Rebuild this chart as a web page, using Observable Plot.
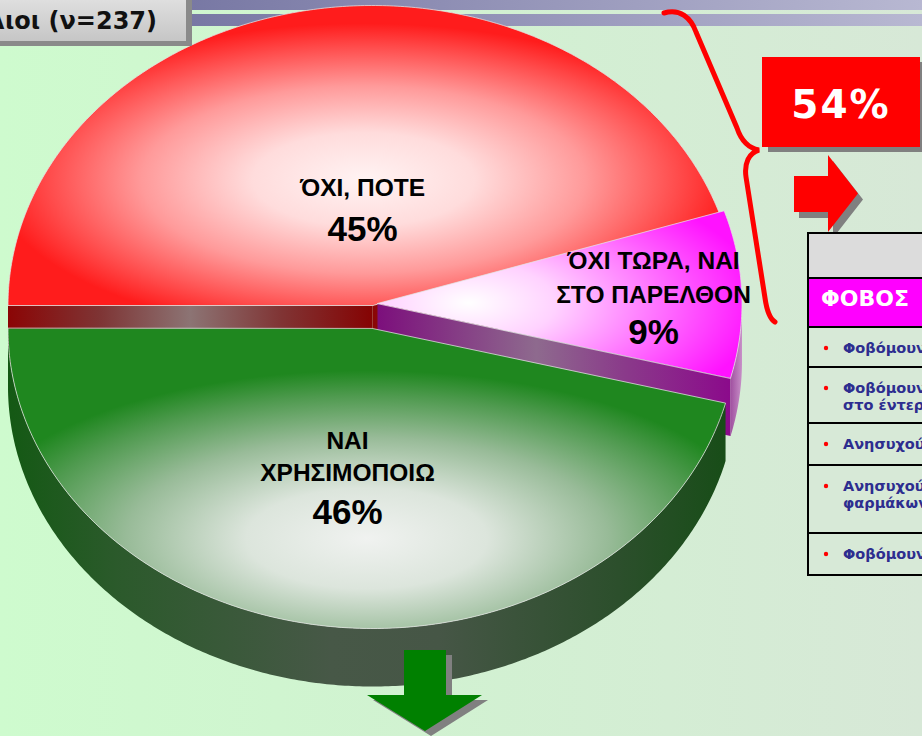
<!DOCTYPE html>
<html lang="el">
<head>
<meta charset="utf-8">
<script src="https://cdn.jsdelivr.net/npm/d3@7"></script>
<script src="https://cdn.jsdelivr.net/npm/@observablehq/plot@0.6"></script>
<style>
html, body { margin: 0; padding: 0; }
body { width: 922px; height: 736px; overflow: hidden; position: relative;
  background: linear-gradient(90deg, #cefbce 0%, #d1f2d1 45%, #d7e8d7 100%); }
svg.layer { position: absolute; left: 0; top: 0; }
#chart { position: absolute; left: 0; top: 0; }
</style>
</head>
<body>
<svg id="under" class="layer" width="922" height="736"></svg>
<div id="chart"></div>
<svg id="over" class="layer" width="922" height="736"></svg>
<script>
// ---------- DATA ----------
const categories = ["ΌΧΙ, ΠΟΤΕ", "ΌΧΙ ΤΩΡΑ, ΝΑΙ ΣΤΟ ΠΑΡΕΛΘΟΝ", "ΝΑΙ ΧΡΗΣΙΜΟΠΟΙΩ"];
const labelLines = [["ΌΧΙ, ΠΟΤΕ"], ["ΌΧΙ ΤΩΡΑ, ΝΑΙ", "ΣΤΟ ΠΑΡΕΛΘΟΝ"], ["ΝΑΙ", "ΧΡΗΣΙΜΟΠΟΙΩ"]];
const values = [45, 9, 46];
const groupLabel = "λιοι";
const sampleSize = 237;
const tableTitle = "ΦΟΒΟΣ";
const fearItems = [
  ["Φοβόμουν τις παρενέργειες"],
  ["Φοβόμουν ότι θα δημιουργηθεί πρόβλημα", "στο έντερο"],
  ["Ανησυχούσα για το κόστος"],
  ["Ανησυχούσα για την αλληλεπίδραση των", "φαρμάκων"],
  ["Φοβόμουν τον εθισμό"]
];

// ---------- LAYOUT ----------
const CX = 372, CY = 316, RX = 364.5, RY = 300, H = 58;
const sliceOffset = [[0, 11], [5, 13], [0, -12]];         // px right, px up
const labelLayout = [                                       // px rel. to slice centre (down = +)
  {dx: -10, lines: [-110], pct: -65},
  {dx: 276, lines: [-35, -1], pct: 40},
  {dx: -25, lines: [120, 152], pct: 195}
];
const fills = [
  {top: "url(#gRedTop)", cut: "url(#gRedCut)", wall: "url(#gRedCut)"},
  {top: "url(#gPinkTop)", cut: "url(#gPinkCut)", wall: "url(#gPinkWall)"},
  {top: "url(#gGreenTop)", cut: "url(#gGreenWall)", wall: "url(#gGreenWall)"}
];

// ---------- GEOMETRY from data ----------
const arcs = d3.pie().sort(null).startAngle(-Math.PI / 2).endAngle(1.5 * Math.PI)(values);
const U = (theta, off, drop = 0) => ({x: Math.cos(theta) + off[0] / RX, y: Math.sin(theta) + (off[1] - drop) / RY});
const C = (off, drop = 0) => ({x: off[0] / RX, y: (off[1] - drop) / RY});
const arcPts = (t0, t1, off, drop) => {
  const n = Math.max(4, Math.ceil(Math.abs(t1 - t0) / 0.01));
  return d3.range(n + 1).map(i => U(t0 + (t1 - t0) * i / n, off, drop));
};

const faceMarks = [];
arcs.forEach((a, i) => {
  const off = sliceOffset[i];
  const t0 = Math.PI / 2 - a.startAngle;
  const t1 = Math.PI / 2 - a.endAngle;
  const cut = th => [C(off), U(th, off), U(th, off, H), C(off, H)];
  if (Math.cos(t0) < -1e-9) faceMarks.push(Plot.line(cut(t0), {x: "x", y: "y", curve: "linear-closed", fill: fills[i].cut, stroke: "none"}));
  if (Math.cos(t1) > 1e-9) faceMarks.push(Plot.line(cut(t1), {x: "x", y: "y", curve: "linear-closed", fill: fills[i].cut, stroke: "none"}));
  const lo = Math.max(t1, -Math.PI), hi = Math.min(t0, 0);
  if (hi - lo > 1e-6) {
    const wall = [...arcPts(hi, lo, off, 0), ...arcPts(lo, hi, off, H)];
    faceMarks.push(Plot.line(wall, {x: "x", y: "y", curve: "linear-closed", fill: fills[i].wall, stroke: "none"}));
  }
  const top = [C(off), ...arcPts(t0, t1, off, 0)];
  faceMarks.push(Plot.line(top, {x: "x", y: "y", curve: "linear-closed", fill: fills[i].top,
    stroke: "#e4e4e4", strokeOpacity: 0.75, strokeWidth: 1}));
});

const nameRows = [], pctRows = [];
values.forEach((v, i) => {
  const off = sliceOffset[i], L = labelLayout[i];
  const x = (off[0] + L.dx) / RX;
  labelLines[i].forEach((t, j) => nameRows.push({x, y: (off[1] - L.lines[j]) / RY, text: t}));
  pctRows.push({x, y: (off[1] - L.pct) / RY, text: `${v}%`});
});

// gradients
const defs = () => {
  const d = d3.create("svg:defs");
  const lin = (id, stops, vertical = false) => {
    const g = d.append("linearGradient").attr("id", id).attr("x1", 0).attr("y1", 0)
      .attr("x2", vertical ? 0 : 1).attr("y2", vertical ? 1 : 0);
    stops.forEach(([o, c]) => g.append("stop").attr("offset", o).attr("stop-color", c));
  };
  const rad = (id, cx, cy, r, stops) => {
    const g = d.append("radialGradient").attr("id", id).attr("cx", cx).attr("cy", cy).attr("r", r);
    stops.forEach(([o, c]) => g.append("stop").attr("offset", o).attr("stop-color", c));
  };
  rad("gRedTop", 0.5, 0.58, 0.52, [[0, "#fff3f3"], [0.3, "#ffdcdc"], [0.6, "#ff9a9a"], [0.85, "#ff4c4c"], [1, "#ff1c1c"]]);
  lin("gRedCut", [[0, "#8b0505"], [0.25, "#7e3434"], [0.5, "#8c7474"], [0.75, "#803434"], [1, "#850303"]]);
  rad("gPinkTop", 0.25, 0.55, 0.8, [[0, "#ffffff"], [0.3, "#ffd2ff"], [0.65, "#ff72ff"], [1, "#ff12ff"]]);
  lin("gPinkCut", [[0, "#7c0f7c"], [0.45, "#8e6a8e"], [0.7, "#8a3a8a"], [1, "#8b0a8b"]]);
  lin("gPinkWall", [[0, "#a050a0"], [1, "#c890c8"]]);
  rad("gGreenTop", 0.5, 0.7, 0.56, [[0, "#f0f2f0"], [0.3, "#dce5dc"], [0.6, "#98bb98"], [0.85, "#4f9a4f"], [1, "#1f871f"]]);
  lin("gGreenWall", [[0, "#145914"], [0.15, "#2b5a2b"], [0.45, "#475847"], [0.6, "#465646"], [0.85, "#2c4f2c"], [1, "#184d18"]]);
  return d.node();
};

const chart = Plot.plot({
  width: 922, height: 736, margin: 0,
  x: {domain: [-1, 1], range: [CX - RX, CX + RX], axis: null},
  y: {domain: [-1, 1], range: [CY + RY, CY - RY], axis: null},
  style: {background: "transparent", overflow: "visible"},
  marks: [
    defs,
    ...faceMarks,
    Plot.text(nameRows, {x: "x", y: "y", text: "text", fontSize: 24.5, fontWeight: "bold",
      fontFamily: "Liberation Sans, Arial, sans-serif", fill: "black", lineAnchor: "bottom", textAnchor: "middle"}),
    Plot.text(pctRows, {x: "x", y: "y", text: "text", fontSize: 35, fontWeight: "bold",
      fontFamily: "Liberation Sans, Arial, sans-serif", fill: "black", lineAnchor: "bottom", textAnchor: "middle"})
  ]
});
document.getElementById("chart").appendChild(chart);

// ---------- decorations ----------
const under = d3.select("#under");
const ug = under.append("defs").append("linearGradient").attr("id", "stripe");
ug.append("stop").attr("offset", 0).attr("stop-color", "#7878a4");
ug.append("stop").attr("offset", 1).attr("stop-color", "#b8b8d2");
under.append("rect").attr("x", 190).attr("y", 0).attr("width", 732).attr("height", 10).attr("fill", "url(#stripe)");
under.append("rect").attr("x", 190).attr("y", 14).attr("width", 732).attr("height", 12).attr("fill", "url(#stripe)");

const over = d3.select("#over");
const od = over.append("defs");
const tg = od.append("linearGradient").attr("id", "titleBox").attr("x1", 0).attr("y1", 0).attr("x2", 0).attr("y2", 1);
tg.append("stop").attr("offset", 0).attr("stop-color", "#e2e2e2");
tg.append("stop").attr("offset", 1).attr("stop-color", "#c6c6c6");

// title box
over.append("rect").attr("x", 0).attr("y", -1).attr("width", 192).attr("height", 47).attr("fill", "#8a8a8a");
over.append("rect").attr("x", -6).attr("y", -6).attr("width", 192).attr("height", 47).attr("fill", "url(#titleBox)");
over.append("text").attr("x", 157).attr("y", 29).attr("text-anchor", "end")
  .attr("font-family", "DejaVu Sans, Verdana, sans-serif").attr("font-weight", "bold").attr("font-size", 24)
  .attr("fill", "#111").text(`${groupLabel} (ν=${sampleSize})`);

// brace
over.append("path")
  .attr("d", "M 664 13 C 680 8, 691 18, 696 32 L 737 128 C 741 140, 748 148, 759 150 C 749 153, 744 163, 746 177 L 765 298 C 767 312, 770 319, 775 322")
  .attr("fill", "none").attr("stroke", "#ff0000").attr("stroke-width", 5).attr("stroke-linecap", "round");

// 54% box
const share = values[0] + values[1];
over.append("rect").attr("x", 768).attr("y", 62).attr("width", 158).attr("height", 90).attr("fill", "#808080");
over.append("rect").attr("x", 762).attr("y", 57).attr("width", 158).attr("height", 90).attr("fill", "#ff0000");
over.append("text").attr("x", 841).attr("y", 118).attr("text-anchor", "middle")
  .attr("font-family", "DejaVu Sans, Verdana, sans-serif").attr("font-weight", "bold").attr("font-size", 39).attr("letter-spacing", 2)
  .attr("fill", "white").text(`${share}%`);

// arrows
const arrowR = [[794,176],[828,176],[828,155],[858,193.5],[828,232],[828,212],[794,212]];
const arrowG = [[404,650],[446,650],[446,695],[482,695],[425,731],[367,695],[404,695]];
const poly = (pts, dx, dy) => pts.map(p => `${p[0] + dx},${p[1] + dy}`).join(" ");
over.append("polygon").attr("points", poly(arrowR, 5, 6)).attr("fill", "#808080");
over.append("polygon").attr("points", poly(arrowR, 0, 0)).attr("fill", "#ff0000");
over.append("polygon").attr("points", poly(arrowG, 6, 5)).attr("fill", "#808080");
over.append("polygon").attr("points", poly(arrowG, 0, 0)).attr("fill", "#008000");

// table
const rowTops = [233, 278, 327, 367, 423, 465, 533, 575];
const TX = 808;
over.append("rect").attr("x", TX).attr("y", rowTops[0]).attr("width", 200).attr("height", rowTops[1] - rowTops[0]).attr("fill", "#dcdcdc");
over.append("rect").attr("x", TX).attr("y", rowTops[1]).attr("width", 200).attr("height", rowTops[2] - rowTops[1]).attr("fill", "#ff00ff");
over.append("rect").attr("x", TX).attr("y", rowTops[2]).attr("width", 200).attr("height", rowTops[7] - rowTops[2]).attr("fill", "#d7e9d7");
over.append("text").attr("x", 821).attr("y", rowTops[1] + 28)
  .attr("font-family", "DejaVu Sans, Verdana, sans-serif").attr("font-weight", "bold").attr("font-size", 22)
  .attr("fill", "white").text(tableTitle);
fearItems.forEach((lines, r) => {
  const top = rowTops[r + 2];
  over.append("circle").attr("cx", 826).attr("cy", top + 21).attr("r", 2.2).attr("fill", "#ff0000");
  lines.forEach((t, j) => {
    over.append("text").attr("x", 843).attr("y", top + 26 + j * 17)
      .attr("font-family", "DejaVu Sans, Verdana, sans-serif").attr("font-weight", "bold").attr("font-size", 14.5)
      .attr("fill", "#2d2d8f").text(t);
  });
});
rowTops.forEach(y => over.append("line").attr("x1", TX - 1).attr("x2", 922).attr("y1", y).attr("y2", y)
  .attr("stroke", "#000").attr("stroke-width", 2));
over.append("line").attr("x1", TX).attr("x2", TX).attr("y1", rowTops[0] - 1).attr("y2", rowTops[7] + 1)
  .attr("stroke", "#000").attr("stroke-width", 2);
</script>
</body>
</html>
